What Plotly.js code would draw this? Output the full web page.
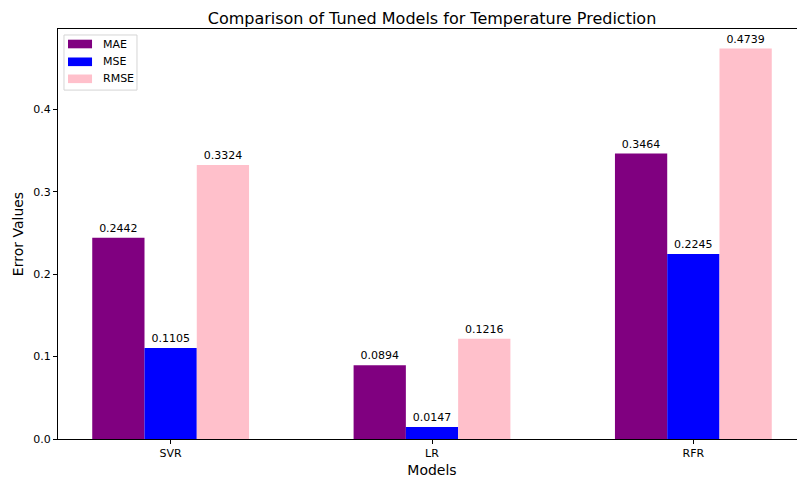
<!DOCTYPE html>
<html>
<head>
<meta charset="utf-8">
<script src="https://cdn.plot.ly/plotly-3.0.1.min.js"></script>
<style>
  html, body { margin: 0; padding: 0; overflow: hidden; background: #fff; }
  #chart { width: 812px; height: 479px; }
</style>
</head>
<body>
<div id="chart"></div>
<script>
// Error metrics for each tuned model
const models = ['SVR', 'LR', 'RFR'];
const maeValues = [0.2442, 0.0894, 0.3464];
const mseValues = [0.1105, 0.0147, 0.2245];
const rmseValues = [0.3324, 0.1216, 0.4739];
const yTicks = [0.0, 0.1, 0.2, 0.3, 0.4];
const seriesNames = ['MAE', 'MSE', 'RMSE'];
const seriesColors = ['#800080', '#0000ff', '#ffc0cb'];

const font = 'DejaVu Sans, sans-serif';

function barTrace(name, values, color) {
  return {
    type: 'bar',
    name: name,
    x: models,
    y: values,
    marker: { color: color, line: { width: 0 } },
    text: values.map(v => v.toFixed(4)),
    textposition: 'outside',
    textfont: { family: font, size: 11, color: '#000' },
    constraintext: 'none',
    cliponaxis: false,
    showlegend: false,
    hoverinfo: 'x+y+name'
  };
}

const seriesValues = [maeValues, mseValues, rmseValues];
const data = seriesNames.map((n, i) => barTrace(n, seriesValues[i], seriesColors[i]));

// Legend box with wide colour patches, laid out in paper coordinates
const legendShapes = [{
  type: 'rect', xref: 'paper', yref: 'paper',
  x0: 0.008, x1: 0.1056, y0: 0.851, y1: 0.9854,
  fillcolor: '#fff', line: { color: '#d5d5d5', width: 1 }, layer: 'above'
}];
const legendNotes = [];
const rowCenters = [0.9634, 0.92, 0.8785];
seriesNames.forEach((n, i) => {
  const yc = rowCenters[i];
  legendShapes.push({
    type: 'rect', xref: 'paper', yref: 'paper',
    x0: 0.0134, x1: 0.0455, y0: yc - 0.0105, y1: yc + 0.0105,
    fillcolor: seriesColors[i], line: { width: 0 }, layer: 'above'
  });
  legendNotes.push({
    xref: 'paper', yref: 'paper', x: 0.0575, y: yc,
    xanchor: 'left', yanchor: 'middle', showarrow: false,
    text: n, font: { family: font, size: 11, color: '#000' }
  });
});

const layout = {
  width: 812,
  height: 479,
  margin: { l: 58, r: 6, t: 29, b: 40 },
  paper_bgcolor: '#fff',
  plot_bgcolor: '#fff',
  font: { family: font, size: 11, color: '#000' },
  barmode: 'group',
  bargap: 0.4,
  bargroupgap: 0,
  title: {
    text: 'Comparison of Tuned Models for Temperature Prediction',
    font: { family: font, size: 16, color: '#000' },
    x: 0.5, xref: 'paper', xanchor: 'center',
    y: 1, yref: 'paper', yanchor: 'bottom',
    pad: { b: 5 }
  },
  xaxis: {
    type: 'category',
    range: [-0.431, 2.431],
    showline: true, mirror: true, linecolor: '#000', linewidth: 1,
    ticks: 'outside', ticklen: 4, tickcolor: '#000', tickwidth: 1,
    showgrid: false, zeroline: false,
    tickfont: { family: font, size: 11, color: '#000' },
    title: { text: 'Models', font: { family: font, size: 14, color: '#000' }, standoff: 5 }
  },
  yaxis: {
    range: [0, 0.4976],
    tickvals: yTicks,
    ticktext: yTicks.map(v => v.toFixed(1)),
    showline: true, mirror: true, linecolor: '#000', linewidth: 1,
    ticks: 'outside', ticklen: 4, tickcolor: '#000', tickwidth: 1,
    showgrid: false, zeroline: false,
    tickfont: { family: font, size: 11, color: '#000' },
    title: { text: 'Error Values', font: { family: font, size: 14, color: '#000' }, standoff: 6 }
  },
  shapes: legendShapes,
  annotations: legendNotes,
  showlegend: false
};

Plotly.newPlot('chart', data, layout, { displayModeBar: false, staticPlot: true });
</script>
</body>
</html>
